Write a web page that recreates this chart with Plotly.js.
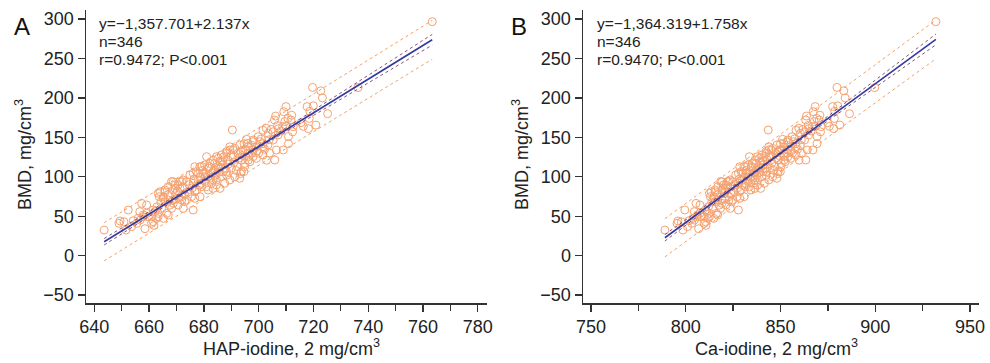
<!DOCTYPE html>
<html>
<head>
<meta charset="utf-8">
<script src="https://cdn.plot.ly/plotly-3.0.1.min.js"></script>
<style>
  html, body { margin: 0; padding: 0; background: #fff; }
  #chart { width: 990px; height: 363px; }
</style>
</head>
<body>
<div id="chart"></div>
<script>
// ---- Data ----
const hapIodine = [643.6,649.0,649.4,650.8,651.6,652.4,653.6,654.2,655.5,656.0,656.6,656.7,657.3,657.9,657.9,658.5,659.1,659.1,659.7,660.9,660.9,661.5,661.5,661.8,662.1,662.7,663.3,663.3,663.3,663.7,664.0,664.6,665.2,665.2,665.2,665.8,665.8,665.8,666.4,667.0,667.0,667.0,668.2,668.2,668.8,668.8,668.8,669.4,669.5,670.0,670.6,670.6,671.2,671.3,671.9,671.9,671.9,672.4,672.4,672.5,673.0,673.7,673.7,674.3,674.9,675.5,676.1,676.1,676.1,676.7,676.7,676.7,677.3,677.4,678.0,678.5,678.5,678.6,678.6,679.1,679.2,679.2,679.7,680.3,680.3,680.4,681.0,681.0,681.6,681.6,681.6,682.2,682.8,682.8,683.4,683.4,683.4,683.4,684.0,684.6,684.6,684.6,685.2,685.2,685.9,685.9,686.4,686.4,687.0,687.1,687.3,687.6,688.3,688.3,688.8,689.5,689.5,690.1,690.4,690.7,690.7,691.3,692.2,692.5,693.1,693.1,693.4,693.8,694.3,694.6,694.7,694.9,695.0,695.6,696.1,696.2,696.2,698.0,698.0,698.0,699.2,699.8,700.0,700.4,701.6,701.6,701.6,702.8,702.9,703.4,703.5,704.0,705.3,705.3,705.8,705.9,706.2,706.5,707.1,707.3,708.8,709.0,709.2,710.0,710.0,710.7,710.9,710.9,711.8,712.1,712.4,712.6,715.5,716.3,717.7,718.2,718.5,718.7,719.7,720.0,720.9,722.7,723.3,725.2,736.3,763.4,701.6,699.2,696.8,693.7,688.3,685.2,691.3,689.5,688.3,668.8,698.0,696.1,
  677.9,679.5,680.8,681.9,682.5,683.9,684.2,685.6,686.1,686.9,687.8,688.9,689.8,690.9,691.8,692.9,693.5,694.1,695.3,696.5,697.4,697.7,699.5,700.9,702.2,703.9,704.6,706.9,708.2,709.6,
  662.9,664.3,666.9,667.6,669.9,670.3,672.9,674.6,675.8,676.4];
const caIodine = [789.0,795.4,795.9,797.6,798.5,799.5,800.9,801.7,803.2,803.8,804.5,804.6,805.4,806.1,806.1,806.8,807.5,807.5,808.2,809.7,809.7,810.4,810.4,810.7,811.1,811.8,812.5,812.5,812.5,813.0,813.4,814.1,814.8,814.8,814.8,815.5,815.5,815.5,816.2,816.9,816.9,816.9,818.4,818.4,819.1,819.1,819.1,819.8,819.9,820.5,821.2,821.2,822.0,822.1,822.8,822.8,822.8,823.4,823.4,823.5,824.1,824.9,824.9,825.6,826.4,827.1,827.8,827.8,827.8,828.5,828.5,828.5,829.2,829.3,830.1,830.7,830.7,830.8,830.8,831.4,831.5,831.5,832.1,832.8,832.8,832.9,833.6,833.6,834.4,834.4,834.4,835.1,835.8,835.8,836.5,836.5,836.5,836.5,837.2,837.9,837.9,837.9,838.7,838.7,839.5,839.5,840.1,840.1,840.8,840.9,841.2,841.5,842.4,842.4,843.0,843.8,843.8,844.5,843.5,845.2,845.2,845.9,847.0,847.4,848.1,848.1,848.4,848.9,849.5,849.9,850.0,850.2,850.4,851.1,851.7,851.8,851.8,853.9,853.9,853.9,855.4,856.1,856.3,856.8,858.2,858.2,858.2,859.7,859.8,860.4,860.5,861.1,862.7,862.7,863.3,863.4,863.7,864.1,864.8,865.0,866.8,867.1,867.3,868.3,868.3,869.1,869.3,869.3,870.4,870.8,871.1,871.4,874.8,875.8,877.5,878.1,878.4,878.6,879.8,880.2,881.3,883.4,884.1,886.4,899.7,932.0,858.2,855.4,852.5,848.8,842.4,838.7,845.9,843.8,842.4,819.1,853.9,851.7,
  829.9,831.9,833.4,834.7,835.4,837.1,837.5,839.1,839.7,840.7,841.8,843.1,844.1,845.5,846.5,847.8,848.6,849.3,850.7,852.1,853.2,853.6,855.7,857.4,859.0,861.0,861.8,864.6,866.1,867.8,
  812.0,813.7,816.8,817.6,820.4,820.9,824.0,826.0,827.4,828.2];
const bmd = [32.5,41.0,44.0,43.0,32.5,57.9,36.8,44.4,41.0,47.4,55.8,45.2,66.3,49.4,51.6,34.2,53.7,64.3,49.4,49.4,41.0,57.9,43.1,38.4,55.8,47.3,53.7,49.4,79.1,74.8,81.0,60.0,47.3,72.7,74.8,81.0,68.4,83.3,53.7,87.5,70.6,51.6,94.0,60.0,83.2,66.3,70.6,85.4,89.6,79.0,64.3,89.6,93.8,85.3,94.0,70.6,74.8,96.0,87.5,60.0,68.4,94.0,70.6,81.0,102.3,74.8,57.9,91.8,104.4,81.0,72.7,112.8,106.5,83.2,104.4,112.8,89.6,100.0,74.8,91.8,113.0,87.5,104.4,115.0,100.1,94.0,125.5,87.5,111.0,100.0,83.2,117.0,104.4,91.8,121.0,96.0,85.3,106.5,108.6,125.5,89.6,96.0,113.0,123.4,119.0,85.3,127.6,100.1,115.0,106.5,125.5,91.8,132.0,102.0,121.3,138.0,96.0,111.0,159.3,134.0,125.5,100.0,113.0,129.8,140.3,98.1,104.0,121.0,134.0,106.5,142.0,112.8,117.0,147.5,129.8,138.0,121.0,144.5,125.5,134.0,138.0,150.8,130.0,144.5,159.0,142.0,127.6,161.5,121.0,140.3,155.0,130.0,157.0,146.6,172.0,121.3,177.0,134.0,153.0,161.0,163.5,134.0,182.5,189.0,164.0,174.0,151.0,142.0,172.0,178.0,157.0,163.5,168.6,164.0,189.0,161.0,174.0,183.0,213.3,190.0,165.6,209.0,200.0,180.0,213.0,296.6,138.2,123.4,119.1,106.5,106.5,110.8,136.0,134.0,129.8,93.8,146.6,142.4,
  95.5,108.0,104.0,113.0,98.5,117.0,102.0,106.0,112.0,120.0,110.0,116.0,127.0,118.0,108.0,124.0,132.0,127.0,135.0,126.0,140.0,130.0,133.0,148.0,135.0,147.0,160.0,165.0,158.0,170.0,
  62.0,68.0,77.0,64.0,72.0,82.0,78.0,90.0,86.0,97.0];

// regression line and bands (read at a few x positions)
const bandHap = [643.6,660,675,688,700,715,730,745,763.4];
const bandCa  = [789.0,808.6,826.5,842.0,856.3,874.2,892.1,910.0,932.0];
const fitA  = [17.67,52.72,84.77,112.55,138.2,170.25,202.31,234.36,273.69];
const ciUpA = [21.8,55.4,86.4,113.8,139.8,172.9,206.2,239.6,280.5];
const ciLoA = [13.6,50.0,83.2,111.4,136.6,167.7,198.4,229.2,266.9];
const piUpA = [41.9,76.6,108.5,136.2,161.9,194.1,226.3,258.7,298.3];
const piLoA = [-6.5,28.8,61.1,89.0,114.5,146.5,178.3,210.1,249.1];
const fitB  = [22.74,57.20,88.67,115.92,141.06,172.52,203.99,235.46,274.14];
const ciUpB = [26.8,59.9,90.3,117.1,142.7,175.1,207.9,240.7,280.9];
const ciLoB = [18.6,54.5,87.1,114.7,139.5,169.9,200.1,230.3,267.3];
const piUpB = [46.9,81.1,112.4,139.5,164.8,196.3,228.0,259.8,298.7];
const piLoB = [-1.5,33.3,65.0,92.3,117.4,148.7,180.0,211.2,249.5];

const xTicksA = [640,660,680,700,720,740,760,780];
const xTicksB = [750,800,850,900,950];
const yTicks = [-50,0,50,100,150,200,250,300];
const yTickText = ['\u221250','0','50','100','150','200','250','300'];

const statsA = ['y=\u22121,357.701+2.137x','n=346','r=0.9472; P<0.001'];
const statsB = ['y=\u22121,364.319+1.758x','n=346','r=0.9470; P<0.001'];

// ---- Styles ----
const ptColor = '#f5a271';
const piColor = '#f5a066';
const ciColor = '#8c4f72';
const fitColor = '#2e3aa2';
const font = 'Liberation Sans, Arial, Helvetica, sans-serif';
const txt = '#222';

function panel(xs, fit, ciU, ciL, piU, piL, px, xa, ya) {
  return [
    {x: px, y: bmd, xaxis: xa, yaxis: ya, type: 'scatter', mode: 'markers',
     marker: {symbol: 'circle-open', size: 8, color: ptColor, line: {width: 1, color: ptColor}}, hoverinfo: 'skip'},
    {x: xs, y: piU, xaxis: xa, yaxis: ya, mode: 'lines', line: {color: piColor, width: 1, dash: 'dot'}},
    {x: xs, y: piL, xaxis: xa, yaxis: ya, mode: 'lines', line: {color: piColor, width: 1, dash: 'dot'}},
    {x: xs, y: ciU, xaxis: xa, yaxis: ya, mode: 'lines', line: {color: ciColor, width: 1, dash: 'dot'}},
    {x: xs, y: ciL, xaxis: xa, yaxis: ya, mode: 'lines', line: {color: ciColor, width: 1, dash: 'dot'}},
    {x: [xs[0], xs[xs.length-1]], y: [fit[0], fit[fit.length-1]], xaxis: xa, yaxis: ya, mode: 'lines',
     line: {color: fitColor, width: 1.6}}
  ];
}

const data = [].concat(
  panel(bandHap, fitA, ciUpA, ciLoA, piUpA, piLoA, hapIodine, 'x', 'y'),
  panel(bandCa, fitB, ciUpB, ciLoB, piUpB, piLoB, caIodine, 'x2', 'y2')
);

const W = 990, H = 363;
const px = v => v / W, py = v => 1 - v / H;

const axisCommon = {
  showline: true, linecolor: '#333', linewidth: 1.5, ticks: 'outside', ticklen: 7,
  tickwidth: 1.3, tickcolor: '#333', showgrid: false, zeroline: false,
  tickfont: {family: font, size: 18, color: txt}, fixedrange: true
};
const yDomain = [1 - 303 / H, 1 - 10 / H];

const layout = {
  width: W, height: H, margin: {l: 0, r: 0, t: 0, b: 0},
  paper_bgcolor: '#fff', plot_bgcolor: '#fff', showlegend: false,
  xaxis: Object.assign({}, axisCommon, {domain: [px(86), px(487)], range: [636.96, 783.4],
    tickmode: 'array', tickvals: xTicksA, anchor: 'y',
    minor: {dtick: 10, tick0: 650, ticks: 'outside', ticklen: 6, tickwidth: 1.3, tickcolor: '#333'}}),
  yaxis: Object.assign({}, axisCommon, {domain: yDomain, range: [-59.95, 311.4],
    tickmode: 'array', tickvals: yTicks, ticktext: yTickText, anchor: 'x'}),
  xaxis2: Object.assign({}, axisCommon, {domain: [px(583), px(979)], range: [745.78, 954.75],
    tickmode: 'array', tickvals: xTicksB, anchor: 'y2',
    minor: {dtick: 25, tick0: 775, ticks: 'outside', ticklen: 6, tickwidth: 1.3, tickcolor: '#333'}}),
  yaxis2: Object.assign({}, axisCommon, {domain: yDomain, range: [-59.95, 311.4],
    tickmode: 'array', tickvals: yTicks, ticktext: yTickText, anchor: 'x2'}),
  annotations: []
};

function addText(text, x, y, opts) {
  layout.annotations.push(Object.assign({
    text: text, xref: 'paper', yref: 'paper', x: px(x), y: py(y),
    showarrow: false, xanchor: 'center', yanchor: 'middle',
    font: {family: font, size: 16, color: txt}
  }, opts || {}));
}

[statsA, statsB].forEach((lines, i) => {
  const x0 = i === 0 ? 97 : 595;
  const ys = [23.3, 41.2, 59.5];
  lines.forEach((t, j) => addText(t, x0, ys[j], {xanchor: 'left', align: 'left', font: {family: font, size: 15.5, color: txt}}));
});

addText('A', 22, 26, {font: {family: font, size: 24, color: '#111'}});
addText('B', 519, 26, {font: {family: font, size: 24, color: '#111'}});
addText('BMD, mg/cm<sup>3</sup>', 23, 155, {textangle: -90, font: {family: font, size: 18, color: txt}});
addText('BMD, mg/cm<sup>3</sup>', 520, 155, {textangle: -90, font: {family: font, size: 18, color: txt}});
addText('HAP-iodine, 2 mg/cm<sup>3</sup>', 291, 347, {font: {family: font, size: 18, color: txt}});
addText('Ca-iodine, 2 mg/cm<sup>3</sup>', 776, 347, {font: {family: font, size: 18, color: txt}});

Plotly.newPlot('chart', data, layout, {displayModeBar: false, staticPlot: true});
</script>
</body>
</html>
